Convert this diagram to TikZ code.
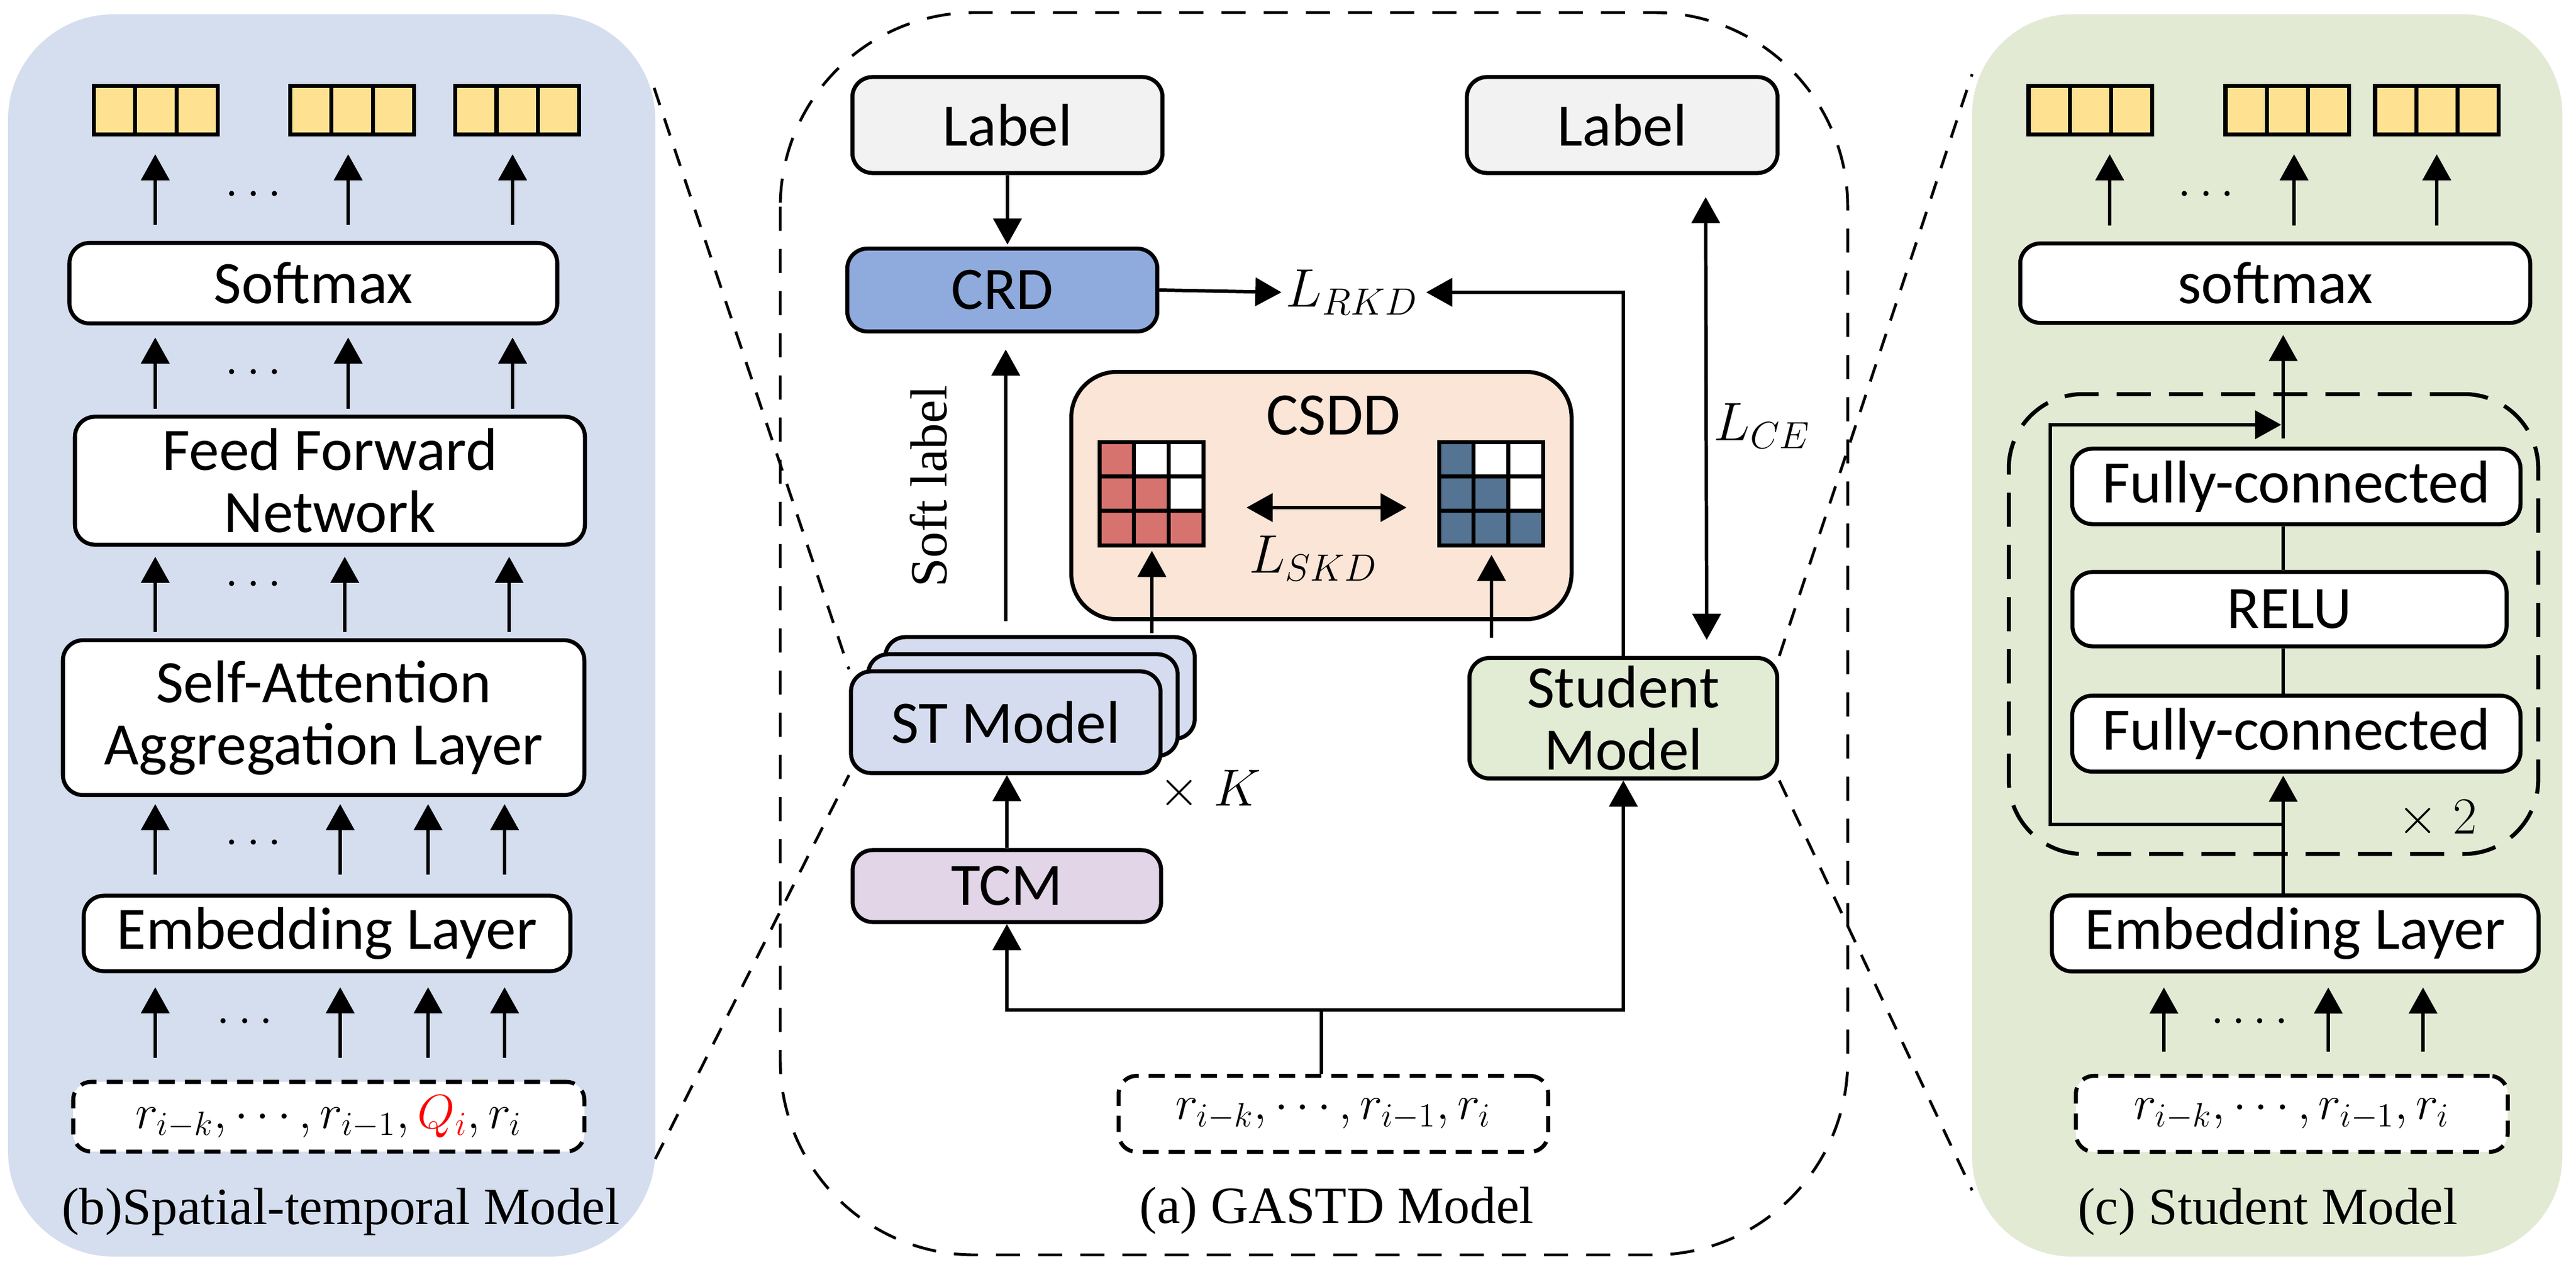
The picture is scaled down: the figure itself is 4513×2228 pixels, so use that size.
\RequirePackage{fix-cm}
\documentclass[tikz,border=0pt]{standalone}
\usepackage{fontspec}
\setmainfont{Liberation Serif}
\newfontfamily\handfont{Carlito}
\usetikzlibrary{arrows.meta, calc, positioning}

\definecolor{bpanel}{HTML}{D5DEEF}
\definecolor{cpanel}{HTML}{E2EAD4}
\definecolor{cellyellow}{HTML}{FFE291}
\definecolor{labelgray}{HTML}{F2F2F2}
\definecolor{crdblue}{HTML}{8FAADC}
\definecolor{csddpeach}{HTML}{FBE5D6}
\definecolor{stblue}{HTML}{D5DCEF}
\definecolor{tcmpurple}{HTML}{E1D5E7}
\definecolor{stugreen}{HTML}{E2EBD4}
\definecolor{heatred}{HTML}{D7736F}
\definecolor{heatblue}{HTML}{557392}

\newcommand{\lblfont}{\handfont\fontsize{30}{31}\selectfont}
\newcommand{\capfont}{\fontsize{26}{28}\selectfont}
\newcommand{\lossfont}{\fontsize{27}{29}\selectfont}
\newcommand{\seqfont}{\fontsize{24}{26}\selectfont}

\newcommand{\heatgrid}[2]{%
  \foreach \r in {0,1,2} \foreach \c in {0,1,2}
    \draw[line width=2pt, fill=white] ([shift={(\c*60.67,\r*60.33)}]#1.north west) rectangle ++(60.67,60.33);
  \foreach \r in {0,1,2} \foreach \c in {0,...,\r}
    \draw[line width=2pt, fill=#2] ([shift={(\c*60.67,\r*60.33)}]#1.north west) rectangle ++(60.67,60.33);
}

\tikzset{
  box/.style={draw, line width=2pt, rounded corners=10pt, align=center, font=\lblfont, inner sep=2pt},
  inbox/.style={draw, line width=2pt, rounded corners=9pt, dash pattern=on 8pt off 5pt, fill=white, font=\seqfont},
  arr/.style={-{Triangle[length=13pt,width=14pt]}, line width=1.7pt},
  dblarr/.style={{Triangle[length=13pt,width=14pt]}-{Triangle[length=13pt,width=14pt]}, line width=1.7pt},
  zoomline/.style={line width=1.4pt, dash pattern=on 9pt off 7pt},
  vecbox/.style={draw, line width=2pt, fill=cellyellow, minimum width=2.16cm, minimum height=0.84cm, inner sep=0pt,
    path picture={
      \foreach \t in {0.3333,0.6667}
        \draw[line width=2pt] ($(path picture bounding box.north west)!\t!(path picture bounding box.north east)$) -- ($(path picture bounding box.south west)!\t!(path picture bounding box.south east)$);
    }},
  dots/.style={font=\fontsize{24}{24}\selectfont},
}

\begin{document}
\begin{tikzpicture}[x=0.01cm, y=-0.01cm]
\useasboundingbox (0,0) rectangle (4513,2228);
\fill[white] (0,0) rectangle (4513,2228);

\fill[bpanel, rounded corners=1.85cm] (14,25) rectangle (1148,2201);
\fill[cpanel, rounded corners=1.75cm] (3455,25) rectangle (4489,2201);
\draw[line width=1.4pt, dash pattern=on 12pt off 9pt, rounded corners=3.4cm] (1367,22) rectangle (3237,2198);

\node[vecbox] (bo1) at (273,193) {};
\node[vecbox] (bo2) at (617,193) {};
\node[vecbox] (bo3) at (906,193) {};
\node[box, fill=white, minimum width=8.54cm, minimum height=1.41cm] (bsoft) at (549,496) {Softmax};
\node[box, fill=white, minimum width=8.93cm, minimum height=2.24cm] (bffn) at (578,842) {Feed Forward\\Network};
\node[box, fill=white, minimum width=9.13cm, minimum height=2.71cm] (bsa) at (567,1257) {Self-Attention\\Aggregation Layer};
\node[box, fill=white, minimum width=8.52cm, minimum height=1.32cm] (bemb) at (573,1635) {Embedding Layer};
\node[inbox, minimum width=8.95cm, minimum height=1.22cm] (bin) at (576,1956) {$r_{i-k},\cdots,r_{i-1},{\color{red}Q_i},r_i$};
\node[font=\capfont] (bcap) at (597,2122) {(b)Spatial-temporal Model};

\foreach \n/\x in {bk1/272, bk2/610, bk3/898, bn2/604, bn3/892, bm2/596, bm3/750, bm4/884}
  \coordinate (\n) at (\x,0);
\foreach \k/\o in {bk1/bo1, bk2/bo2, bk3/bo3}
  \draw[arr, shorten <=8pt, shorten >=9pt] (bsoft.north -| \k) -- (\o.south -| \k);
\foreach \k in {bk1, bk2, bk3}
  \draw[arr, shorten <=3pt, shorten >=6pt] (bffn.north -| \k) -- (bsoft.south -| \k);
\foreach \k in {bk1, bn2, bn3}
  \draw[arr, shorten <=3pt, shorten >=5pt] (bsa.north -| \k) -- (bffn.south -| \k);
\foreach \k in {bk1, bm2, bm3, bm4}
  \draw[arr, shorten <=9.5pt, shorten >=3.5pt] (bemb.north -| \k) -- (bsa.south -| \k);
\foreach \k in {bk1, bm2, bm3, bm4}
  \draw[arr, shorten <=11pt, shorten >=7pt] (bin.north -| \k) -- (bemb.south -| \k);
\node[dots] (bd1) at (444,342) {$\cdots$};
\node[dots] (bd2) at (444,654) {$\cdots$};
\node[dots] (bd3) at (444,1025) {$\cdots$};
\node[dots] (bd4) at (444,1478) {$\cdots$};
\node[dots] (bd5) at (429,1791) {$\cdots$};

\node[box, fill=labelgray, minimum width=5.43cm, minimum height=1.68cm] (lab1) at (1765,219) {Label};
\node[box, fill=labelgray, minimum width=5.44cm, minimum height=1.68cm] (lab2) at (2842,219) {Label};
\node[box, fill=crdblue, minimum width=5.43cm, minimum height=1.45cm] (crd) at (1756,508) {CRD};
\node[font=\lossfont, anchor=west, inner sep=2pt] (lrkd) at (2245,512) {$L_{RKD}$};
\node[box, fill=csddpeach, rounded corners=0.8cm, minimum width=8.76cm, minimum height=4.33cm] (csdd) at (2315,868) {};
\node[font=\lblfont] (csddt) at (2336,728) {CSDD};
\node[minimum size=1.82cm, inner sep=0pt] (redg) at (2018,866) {};
\node[minimum size=1.82cm, inner sep=0pt] (blueg) at (2613,866) {};
\heatgrid{redg}{heatred}
\heatgrid{blueg}{heatblue}
\draw[dblarr] ([xshift=0.74cm, yshift=-0.23cm]redg.east) -- ([xshift=-0.57cm, yshift=-0.23cm]blueg.west);
\node[font=\lossfont] (lskd) at (2301,978) {$L_{SKD}$};

\node[box, fill=stblue, minimum width=5.42cm, minimum height=1.78cm] (st3) at (1822,1205) {};
\node[box, fill=stblue, minimum width=5.42cm, minimum height=1.78cm] (st2) at (1792,1235) {};
\node[box, fill=stblue, minimum width=5.42cm, minimum height=1.78cm] (st) at (1762,1265) {ST Model};
\node[font=\capfont] (stk) at (2120,1384) {$\times\; K$};
\node[box, fill=tcmpurple, minimum width=5.40cm, minimum height=1.26cm] (tcm) at (1764,1552) {TCM};
\node[box, fill=stugreen, minimum width=5.39cm, minimum height=2.11cm] (stu) at (2844,1258) {Student\\Model};
\node[inbox, minimum width=7.52cm, minimum height=1.33cm] (ain) at (2336,1951) {$r_{i-k},\cdots,r_{i-1},r_i$};
\node[font=\capfont] (acap) at (2342,2120) {(a) GASTD Model};
\node[font=\capfont, rotate=90] (soft) at (1627,852) {Soft label};
\node[font=\lossfont] (lce) at (3087,746) {$L_{CE}$};

\draw[arr, shorten >=1pt] (lab1.south) -- (lab1.south |- crd.north);
\draw[arr] (crd.east) -- (lrkd.west);
\draw[arr, shorten >=2pt] (stu.north) |- (lrkd.east);
\draw[arr, shorten <=7pt, shorten >=8pt] (st3.north -| st.north) -- (crd.south -| st.north);
\draw[arr, shorten <=1pt, shorten >=2pt] (st3.north -| redg.south) -- (redg.south);
\draw[arr, shorten <=9pt, shorten >=4pt] (stu.north -| blueg.south) -- (blueg.south);
\draw[dblarr, shorten <=11pt, shorten >=8pt] ([xshift=1.46cm]lab2.south) -- ([xshift=1.46cm]stu.north);
\draw[arr] (tcm.north) -- (tcm.north |- st.south);
\coordinate (split) at (2315,1769);
\draw[line width=1.7pt] (ain.north -| split) -- (split);
\draw[arr] (split) -| (tcm.south);
\draw[arr] (split) -| (stu.south);

\coordinate (bcorner1) at (1146,154);
\coordinate (bcorner2) at (1148,2030);
\coordinate (ccorner1) at (3455,130);
\coordinate (ccorner2) at (3455,2085);
\draw[zoomline] (bcorner1) -- (st.north west);
\draw[zoomline] (bcorner2) -- (st.south west);
\draw[zoomline] (stu.north east) -- (ccorner1);
\draw[zoomline] (stu.south east) -- (ccorner2);

\node[vecbox] (co1) at (3662,193) {};
\node[vecbox] (co2) at (4007,193) {};
\node[vecbox] (co3) at (4269,193) {};
\node[box, fill=white, minimum width=8.93cm, minimum height=1.39cm] (csoft) at (3986,496) {softmax};
\node[draw, line width=2pt, dash pattern=on 17pt off 9pt, rounded corners=1.3cm, minimum width=9.27cm, minimum height=8.05cm] (crep) at (3983,1093) {};
\node[box, fill=white, minimum width=7.85cm, minimum height=1.32cm] (cfc1) at (4023,852) {Fully-connected};
\node[box, fill=white, minimum width=7.60cm, minimum height=1.30cm] (crelu) at (4011,1067) {RELU};
\node[box, fill=white, minimum width=7.85cm, minimum height=1.33cm] (cfc2) at (4023,1285) {Fully-connected};
\node[font=\capfont] (ctimes) at (4270,1435) {$\times\; 2$};
\node[box, fill=white, minimum width=8.52cm, minimum height=1.33cm] (cemb) at (4021,1635) {Embedding Layer};
\node[inbox, minimum width=7.56cm, minimum height=1.33cm] (cin) at (4015,1951) {$r_{i-k},\cdots,r_{i-1},r_i$};
\node[font=\capfont] (ccap) at (3973,2122) {(c) Student Model};

\foreach \n/\x in {cq1/3696, cq2/4019, cq3/4269, cl1/3791, cl2/4079, cl3/4245, spine/4000}
  \coordinate (\n) at (\x,0);
\foreach \q/\o in {cq1/co1, cq2/co2, cq3/co3}
  \draw[arr, shorten <=8pt, shorten >=9pt] (csoft.north -| \q) -- (\o.south -| \q);
\foreach \q in {cl1, cl2, cl3}
  \draw[arr, shorten <=11pt, shorten >=7pt] (cin.north -| \q) -- (cemb.south -| \q);
\draw[arr, shorten >=1pt] (cemb.north -| spine) -- (cfc2.south -| spine);
\draw[line width=1.7pt] (cfc2.north -| spine) -- (crelu.south -| spine);
\draw[line width=1.7pt] (crelu.north -| spine) -- (cfc1.south -| spine);
\draw[arr, shorten <=4pt, shorten >=5pt] (cfc1.north -| spine) -- (csoft.south -| spine);
\coordinate (skipin) at (4000,1444);
\coordinate (skipcorner) at (3592,1444);
\coordinate (skipout) at (4000,744);
\draw[arr, shorten >=1pt] (skipin) -- (skipcorner) |- (skipout);
\node[dots] (cd1) at (3865,342) {$\cdots$};
\node[dots] (cd2) at (3941,1791) {$\mathinner{\cdotp\cdotp\cdotp\cdotp}$};
\end{tikzpicture}
\end{document}
